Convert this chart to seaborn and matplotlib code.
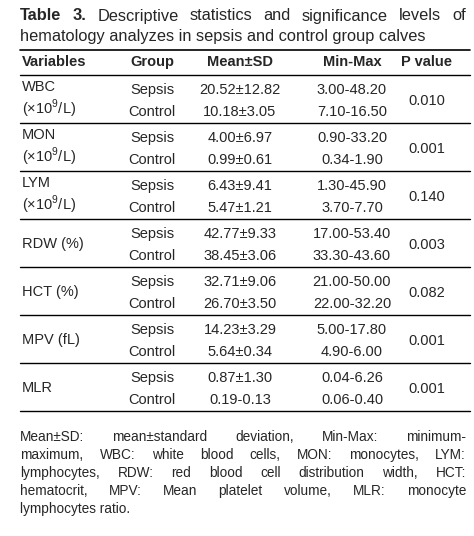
import matplotlib
matplotlib.use("Agg")
import matplotlib.pyplot as plt
import seaborn as sns

sns.set_style("white")
plt.rcParams['font.family'] = ['Liberation Sans', 'DejaVu Sans']
plt.rcParams['mathtext.fontset'] = 'custom'
plt.rcParams['mathtext.rm'] = 'Liberation Sans'

variables = ["WBC\n(×10$^9$/L)", "MON\n(×10$^9$/L)", "LYM\n(×10$^9$/L)", "RDW (%)", "HCT (%)", "MPV (fL)", "MLR"]
groups = ["Sepsis", "Control"]
mean_sd = [["20.52±12.82", "10.18±3.05"], ["4.00±6.97", "0.99±0.61"], ["6.43±9.41", "5.47±1.21"],
           ["42.77±9.33", "38.45±3.06"], ["32.71±9.06", "26.70±3.50"], ["14.23±3.29", "5.64±0.34"],
           ["0.87±1.30", "0.19-0.13"]]
min_max = [["3.00-48.20", "7.10-16.50"], ["0.90-33.20", "0.34-1.90"], ["1.30-45.90", "3.70-7.70"],
           ["17.00-53.40", "33.30-43.60"], ["21.00-50.00", "22.00-32.20"], ["5.00-17.80", "4.90-6.00"],
           ["0.04-6.26", "0.06-0.40"]]
p_values = ["0.010", "0.001", "0.140", "0.003", "0.082", "0.001", "0.001"]
headers = ["Variables", "Group", "Mean±SD", "Min-Max", "P value"]

fig = plt.figure(figsize=(4.74, 5.36), dpi=100)
ax = fig.add_axes([0, 0, 1, 1])
ax.set_xlim(0, 474); ax.set_ylim(536, 0); ax.axis("off")
fig.canvas.draw()
renderer = fig.canvas.get_renderer()

def justify(words, y, xl, xr, size, bold_first=0):
    ts = []
    for j, w in enumerate(words):
        ts.append(ax.text(0, y, w, fontsize=size, va="center",
                          fontweight="bold" if j < bold_first else "normal"))
    widths = []
    for t in ts:
        bb = t.get_window_extent(renderer)
        widths.append(bb.width)
    gap = (xr - xl - sum(widths)) / max(len(words) - 1, 1)
    x = xl
    for t, w in zip(ts, widths):
        t.set_x(x)
        x += w + gap

fs = 10.5
justify(["Table", "3.", "Descriptive", "statistics", "and", "significance", "levels", "of"], 16, 20, 466, 11.8, bold_first=2)
ax.text(20, 36, "hematology analyzes in sepsis and control group calves", fontsize=11.8, va="center")

x0, x1 = 20, 470
ax.plot([x0, x1], [50, 50], color="black", lw=1.2)
ax.plot([x0, x1], [75, 75], color="black", lw=1)
cols = [22, 152, 240, 352, 427]
for i, h in enumerate(headers):
    ax.text(cols[i], 62, h, fontsize=fs, fontweight="bold", va="center", ha="left" if i == 0 else "center")

top = 75
rh = 48
for r in range(len(variables)):
    y = top + r * rh
    ys = [y + 15, y + 37]
    ax.text(cols[0], y + 25, variables[r], fontsize=fs, va="center", linespacing=1.2)
    for k in range(2):
        ax.text(cols[1], ys[k], groups[k], fontsize=fs, va="center", ha="center")
        ax.text(cols[2], ys[k], mean_sd[r][k], fontsize=fs, va="center", ha="center")
        ax.text(cols[3], ys[k], min_max[r][k], fontsize=fs, va="center", ha="center")
    ax.text(cols[4], y + 26, p_values[r], fontsize=fs, va="center", ha="center")
    ax.plot([x0, x1], [y + rh, y + rh], color="black", lw=1)

foot = ["Mean±SD: mean±standard deviation, Min-Max: minimum-",
        "maximum, WBC: white blood cells, MON: monocytes, LYM:",
        "lymphocytes, RDW: red blood cell distribution width, HCT:",
        "hematocrit, MPV: Mean platelet volume, MLR: monocyte"]
for i, line in enumerate(foot):
    justify(line.split(), 437 + i * 18, 20, 466, 9.8)
ax.text(20, 437 + 4 * 18, "lymphocytes ratio.", fontsize=9.8, va="center")

fig.savefig("out.png", dpi=100)
